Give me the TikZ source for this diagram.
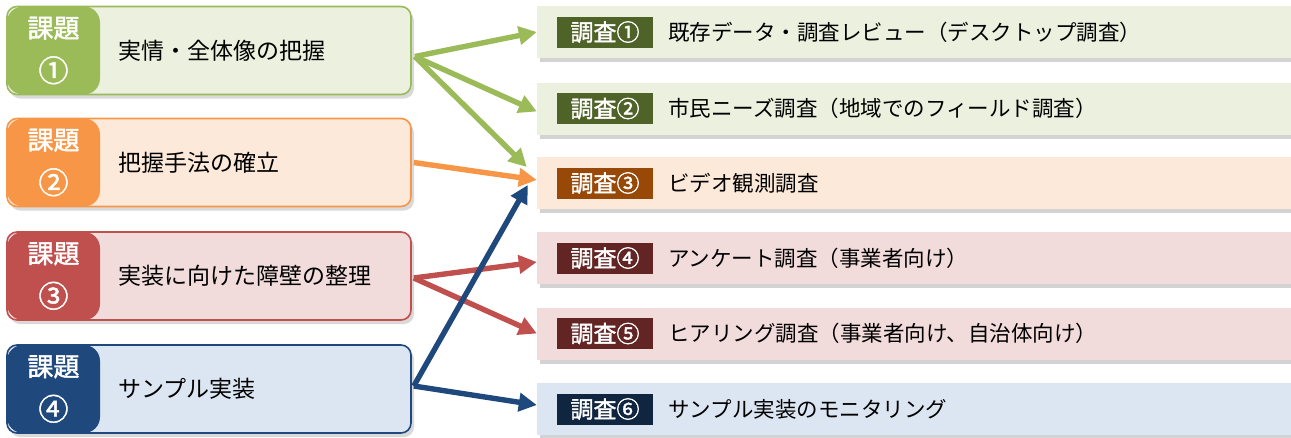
\documentclass[tikz,border=0pt]{standalone}
\usepackage{fontspec}
\setmainfont{Noto Sans CJK JP}
\newfontfamily\jpbold[FakeBold=1.6]{Noto Sans CJK JP}
\usetikzlibrary{shadows,arrows.meta}
\definecolor{g1}{HTML}{9BBB59}\definecolor{g2}{HTML}{EBF1DE}\definecolor{g3}{HTML}{4F6228}
\definecolor{o1}{HTML}{F79646}\definecolor{o2}{HTML}{FDE9D9}\definecolor{o3}{HTML}{984807}
\definecolor{r1}{HTML}{C0504D}\definecolor{r2}{HTML}{F2DCDB}\definecolor{r3}{HTML}{632523}
\definecolor{b1}{HTML}{1F497D}\definecolor{b2}{HTML}{DCE6F2}\definecolor{b3}{HTML}{10253F}
\tikzset{
  kbox/.style={draw=#1, line width=1.6pt, rounded corners=10pt, minimum width=404pt, minimum height=88pt, inner sep=0pt,
    drop shadow={shadow xshift=3pt, shadow yshift=-4pt, opacity=0.3}},
  kbadge/.style={fill=#1, rounded corners=16pt, minimum width=93pt, minimum height=88pt, inner sep=0pt,
    text=white, font=\jpbold\fontsize{26}{44}\selectfont, align=center},
  ktext/.style={anchor=west, font=\fontsize{23}{27}\selectfont, inner sep=0pt},
  sbox/.style={fill=#1, minimum width=754pt, minimum height=52pt, inner sep=0pt,
    drop shadow={shadow xshift=3pt, shadow yshift=-4pt, opacity=0.35}},
  sbadge/.style={fill=#1, minimum width=96pt, minimum height=31pt, inner sep=0pt, text=white,
    font=\jpbold\fontsize{23}{27}\selectfont},
  stext/.style={anchor=west, font=\fontsize{21.5}{25}\selectfont, inner sep=0pt},
  arr/.style={draw=#1, line width=5.4pt, -{Triangle[length=18pt,width=18pt]}}
}
\begin{document}
\begin{tikzpicture}[x=1pt,y=-1pt]
\useasboundingbox (0,0) rectangle (1291,437);
% left boxes
\node[kbox=g1, fill=g2] (k1) at (209,50.5) {};
\node[kbox=o1, fill=o2] (k2) at (209,162.5) {};
\node[kbox=r1, fill=r2] (k3) at (209,276) {};
\node[kbox=b1, fill=b2] (k4) at (209,389) {};
\node[kbadge=g1] (kb1) at (53.5,50.5) {課題\\{\fontsize{30}{44}\selectfont ①}};
\node[kbadge=o1] (kb2) at (53.5,162.5) {課題\\{\fontsize{30}{44}\selectfont ②}};
\node[kbadge=r1] (kb3) at (53.5,276) {課題\\{\fontsize{30}{44}\selectfont ③}};
\node[kbadge=b1] (kb4) at (53.5,389) {課題\\{\fontsize{30}{44}\selectfont ④}};
\node[ktext] (kt1) at (118,50.5) {実情・全体像の把握};
\node[ktext] (kt2) at (118,162.5) {把握手法の確立};
\node[ktext] (kt3) at (118,276) {実装に向けた障壁の整理};
\node[ktext] (kt4) at (118,389) {サンプル実装};
% right boxes
\node[sbox=g2] (s1) at (914,32) {};
\node[sbox=g2] (s2) at (914,108.5) {};
\node[sbox=o2] (s3) at (914,183) {};
\node[sbox=r2] (s4) at (914,258) {};
\node[sbox=r2] (s5) at (914,333.5) {};
\node[sbox=b2] (s6) at (914,409) {};
\node[sbadge=g3] (sb1) at (605,32) {調査①};
\node[sbadge=g3] (sb2) at (605,108.5) {調査②};
\node[sbadge=o3] (sb3) at (605,183) {調査③};
\node[sbadge=r3] (sb4) at (605,258) {調査④};
\node[sbadge=r3] (sb5) at (605,333.5) {調査⑤};
\node[sbadge=b3] (sb6) at (605,409) {調査⑥};
\node[stext] (st1) at (668,32) {既存データ・調査レビュー（デスクトップ調査）};
\node[stext] (st2) at (668,108.5) {市民ニーズ調査（地域でのフィールド調査）};
\node[stext] (st3) at (668,183) {ビデオ観測調査};
\node[stext] (st4) at (668,258) {アンケート調査（事業者向け）};
\node[stext] (st5) at (668,333.5) {ヒアリング調査（事業者向け、自治体向け）};
\node[stext] (st6) at (668,409) {サンプル実装のモニタリング};
% arrows
\draw[arr=g1] ([xshift=3pt,yshift=-6pt]k1.east) -- (s1.west);
\draw[arr=g1] ([xshift=3pt,yshift=-6pt]k1.east) -- ([yshift=-3pt]s2.west);
\draw[arr=g1] ([xshift=3pt,yshift=-6pt]k1.east) -- ([xshift=-10pt,yshift=16pt]s3.west);
\draw[arr=o1] ([xshift=2pt]k2.east) -- ([yshift=3pt]s3.west);
\draw[arr=r1] ([xshift=2pt,yshift=-2pt]k3.east) -- ([yshift=-4pt]s4.west);
\draw[arr=r1] ([xshift=2pt,yshift=-2pt]k3.east) -- (s5.west);
\draw[arr=b1] ([xshift=2pt,yshift=3pt]k4.east) -- ([xshift=-9pt,yshift=-2pt]s3.west);
\draw[arr=b1] ([xshift=2pt,yshift=3pt]k4.east) -- ([yshift=4pt]s6.west);
\end{tikzpicture}
\end{document}
